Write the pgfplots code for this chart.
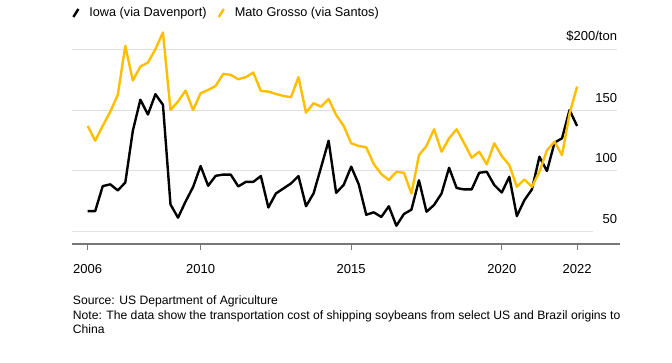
\documentclass[border=0pt]{standalone}
\usepackage{pgfplots}
\pgfplotsset{compat=1.18}
\usepackage{fontspec}
\setmainfont{Liberation Sans}
\definecolor{goldc}{HTML}{FFBF00}
\definecolor{gridc}{HTML}{E1E1E1}
\definecolor{axisc}{HTML}{777777}
\begin{document}
\begin{tikzpicture}
\useasboundingbox (-72pt,-118pt) rectangle (600pt,244pt);
\begin{axis}[
  scale only axis,
  width=548pt, height=219.2pt,
  xmin=-2.08, xmax=70.7,
  ymin=40, ymax=220,
  clip=false,
  axis x line*=bottom,
  axis y line=none,
  x axis line style={-, draw=axisc, line width=1.4pt},
  xtick={0,15,35,55,65},
  xticklabels={2006,2010,2015,2020,2022},
  xtick align=outside,
  major tick length=6pt,
  xtick style={draw=axisc, line width=1pt},
  xticklabel style={anchor=base, yshift=-23.5pt, inner sep=0pt, font=\fontsize{13}{15}\selectfont},
  ytick=\empty,
  legend columns=2,
  legend style={draw=none, fill=none, inner sep=0pt, at={(0,1.054)}, anchor=west,
    font=\fontsize{12.7}{15}\selectfont,
    /tikz/every even column/.append style={column sep=9pt}},
  legend cell align=left,
]
\addplot[gridc, line width=1pt, forget plot] coordinates {(-2.08,200) (70.33,200)};
\addplot[gridc, line width=1pt, forget plot] coordinates {(-2.08,150) (70.33,150)};
\addplot[gridc, line width=1pt, forget plot] coordinates {(-2.08,100) (70.33,100)};
\addplot[gridc, line width=1pt, forget plot] coordinates {(-2.08,50) (67.1,50)};

\addplot[black, line width=2.4pt, line join=round,
  legend image code/.code={\path[draw=none, fill=none] (0pt,-5pt) rectangle (15pt,5pt); \draw[black, line width=2.4pt] (1pt,-4pt) -- (6pt,4pt);}]
coordinates {
(0,67)(1,67)(2,87.5)(3,89)(4,84)(5,90.5)(6,133)(7,158.5)(8,146.3)(9,163)
(10,154.3)(11,72.5)(12,61.6)(13,74.8)(14,86.8)(15,104)(16,87.8)(17,96)(18,97)(19,97)
(20,87.3)(21,91)(22,91)(23,95.8)(24,70)(25,81.5)(26,85.6)(27,89.7)(28,95.8)(29,71)
(30,81.5)(31,103)(32,124.8)(33,82)(34,88.5)(35,103.5)(36,89)(37,64)(38,66)(39,62.2)
(40,71)(41,55)(42,64.6)(43,68.2)(44,92.3)(45,66.5)(46,72)(47,81.5)(48,102.6)(49,86)
(50,84.8)(51,84.8)(52,98.5)(53,99.3)(54,88.4)(55,82.3)(56,95.2)(57,62.9)(58,76)(59,84.8)
(60,111.7)(61,99.9)(62,123.2)(63,126.8)(64,150)(65,136.9)
};
\addlegendentry{Iowa (via Davenport)}

\addplot[goldc, line width=2.4pt, line join=round,
  legend image code/.code={\path[draw=none, fill=none] (0pt,-5pt) rectangle (15pt,5pt); \draw[goldc, line width=2.4pt] (1pt,-4pt) -- (6pt,4pt);}]
coordinates {
(0,137)(1,124.8)(2,137)(3,148.7)(4,162.4)(5,202.7)(6,174.2)(7,185.7)(8,189)(9,200)
(10,213.7)(11,150)(12,157)(13,166)(14,150)(15,163.8)(16,166.5)(17,169.8)(18,179.7)(19,178.9)
(20,175.3)(21,177)(22,180.8)(23,165.7)(24,165.2)(25,163.2)(26,161.6)(27,160.5)(28,177)(29,147.9)
(30,155.6)(31,152.8)(32,159.1)(33,146)(34,137)(35,122.7)(36,120.5)(37,119.4)(38,105.6)(39,97.4)
(40,92.5)(41,99.3)(42,98.5)(43,81.5)(44,113)(45,120.5)(46,134.2)(47,115.8)(48,126.8)(49,134.2)
(50,122.7)(51,110.9)(52,115.8)(53,105.4)(54,122.7)(55,112.2)(56,104.8)(57,87)(58,93)(59,87)
(60,99.3)(61,117)(62,124)(63,113)(64,147)(65,169.3)
};
\addlegendentry{Mato Grosso (via Santos)}

\node[anchor=base east, inner sep=0pt, font=\fontsize{13}{15}\selectfont] at (axis cs:70.33,200) [yshift=8.5pt] {\$200/ton};
\node[anchor=base east, inner sep=0pt, font=\fontsize{13}{15}\selectfont] at (axis cs:70.33,150) [yshift=8pt] {150};
\node[anchor=base east, inner sep=0pt, font=\fontsize{13}{15}\selectfont] at (axis cs:70.33,100) [yshift=8pt] {100};
\node[anchor=base east, inner sep=0pt, font=\fontsize{13}{15}\selectfont] at (axis cs:70.33,50) [yshift=8pt] {50};
\end{axis}
\node[anchor=base west, inner sep=0pt, font=\fontsize{12.15}{14}\selectfont] at (0.7pt,-60.2pt) {Source: US Department of Agriculture};
\node[anchor=base west, inner sep=0pt, font=\fontsize{12.15}{14}\selectfont] at (0.7pt,-75.2pt) {Note: The data show the transportation cost of shipping soybeans from select US and Brazil origins to};
\node[anchor=base west, inner sep=0pt, font=\fontsize{12.15}{14}\selectfont] at (0.7pt,-89.8pt) {China};
\end{tikzpicture}
\end{document}
